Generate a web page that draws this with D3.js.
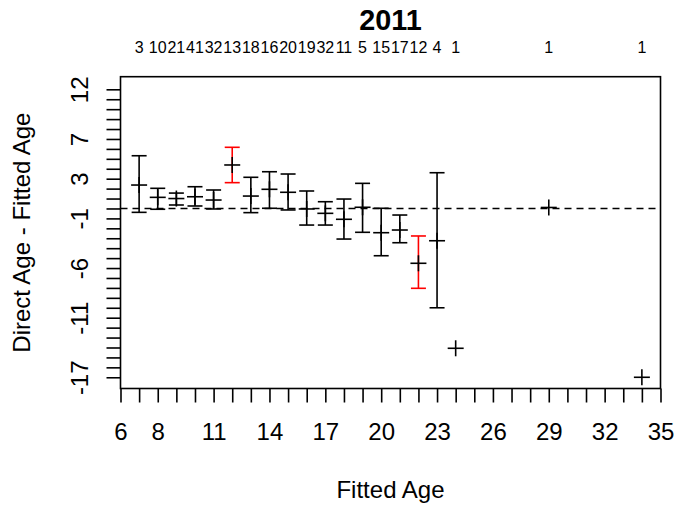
<!DOCTYPE html>
<html>
<head>
<meta charset="utf-8">
<script src="https://cdn.jsdelivr.net/npm/d3@7/dist/d3.min.js"></script>
<style>
  html, body { margin: 0; padding: 0; background: #fff; }
  svg text { font-family: "Liberation Sans", Arial, sans-serif; fill: #000; }
</style>
</head>
<body>
<svg id="chart" width="674" height="508"></svg>
<script>
// ---- data ----
const title = "2011";
const xLabel = "Fitted Age";
const yLabel = "Direct Age - Fitted Age";
const ages   = [7, 8, 9, 10, 11, 12, 13, 14, 15, 16, 17, 18, 19, 20, 21, 22, 23, 24, 29, 34];
const counts = [3, 10, 21, 41, 32, 13, 18, 16, 20, 19, 32, 11, 5, 15, 17, 12, 4, 1, 1, 1];
const means  = [2.36, 1.12, 1.0, 1.18, 0.85, 4.38, 1.25, 1.93, 1.63, -0.05, -0.49, -1.09, 0.12, -2.44, -2.17, -5.52, -3.25, -14.08, 0.1, -17.0];
const uppers = [5.31, 2.03, 1.55, 2.19, 1.86, 6.16, 3.14, 3.7, 3.47, 1.76, 0.68, 0.95, 2.53, 0.02, -0.66, -2.77, 3.6, null, null, null];
const lowers = [-0.39, -0.08, 0.35, 0.25, -0.05, 2.6, -0.42, 0.02, -0.15, -1.67, -1.67, -3.08, -2.4, -4.76, -3.45, -8.04, -10.0, null, null, null];
const flagged = [false, false, false, false, false, true, false, false, false, false, false, false, false, false, false, true, false, false, false, false];
const xTickLabels = [6, 8, 11, 14, 17, 20, 23, 26, 29, 32, 35];
const yTickLabels = [12, 7, 3, -1, -6, -11, -17];
const refLine = 0;

// ---- layout ----
const box = { left: 120.5, right: 660.5, top: 76.7, bottom: 388.5 };
const svg = d3.select("#chart");
const x = d3.scaleLinear().domain([6, 35]).range([box.left, box.right]);
const y = d3.scaleLinear().domain([-18.13, 13.27]).range([box.bottom, box.top]);
const lw = 1.6;

// reference dashed line
svg.append("line")
  .attr("x1", box.left).attr("x2", box.right)
  .attr("y1", y(refLine)).attr("y2", y(refLine))
  .attr("stroke", "#000").attr("stroke-width", lw)
  .attr("stroke-dasharray", "7,5");

// x axis
const xAxis = d3.axisBottom(x)
  .tickValues(d3.range(6, 36))
  .tickSize(14)
  .tickFormat(d => xTickLabels.includes(d) ? d : "");
const gx = svg.append("g").attr("transform", `translate(0,${box.bottom})`).call(xAxis);
gx.select(".domain").remove();
gx.selectAll(".tick line").attr("stroke", "#000").attr("stroke-width", lw);
gx.selectAll(".tick text").attr("y", 51.5).attr("dy", 0)
  .style("font-size", "24px").attr("fill", "#000");

// y axis
const yAxis = d3.axisLeft(y)
  .tickValues(d3.range(-17, 13))
  .tickSize(14)
  .tickFormat(d => yTickLabels.includes(d) ? d : "");
const gy = svg.append("g").attr("transform", `translate(${box.left},0)`).call(yAxis);
gy.select(".domain").remove();
gy.selectAll(".tick line").attr("stroke", "#000").attr("stroke-width", lw);
gy.selectAll(".tick text")
  .attr("x", 0).attr("dy", 0)
  .attr("text-anchor", "middle")
  .attr("transform", "translate(-33,0) rotate(-90)")
  .style("font-size", "24px").attr("fill", "#000");

// box
svg.append("rect")
  .attr("x", box.left).attr("y", box.top)
  .attr("width", box.right - box.left).attr("height", box.bottom - box.top)
  .attr("fill", "none").attr("stroke", "#000").attr("stroke-width", lw);

// top counts
svg.append("g").selectAll("text").data(ages).join("text")
  .attr("x", d => x(d)).attr("y", 53.3)
  .attr("text-anchor", "middle")
  .style("font-size", "16px")
  .text((d, i) => counts[i]);

// title and axis titles
svg.append("text").attr("x", (box.left + box.right) / 2).attr("y", 30)
  .attr("text-anchor", "middle").style("font-size", "28.8px").style("font-weight", "bold")
  .text(title);
svg.append("text").attr("x", (box.left + box.right) / 2).attr("y", 498)
  .attr("text-anchor", "middle").style("font-size", "24px").text(xLabel);
svg.append("text")
  .attr("transform", `translate(30,${(box.top + box.bottom) / 2}) rotate(-90)`)
  .attr("text-anchor", "middle").style("font-size", "24px").text(yLabel);

// error bars
const rows = ages.map((a, i) => ({ a, m: means[i], u: uppers[i], l: lowers[i], f: flagged[i] }));
const cap = 7.5, plus = 8;
const bars = svg.append("g").selectAll("g").data(rows.filter(r => r.u !== null)).join("g")
  .attr("stroke", r => r.f ? "#ff0000" : "#000").attr("stroke-width", lw);
bars.append("line").attr("x1", r => x(r.a)).attr("x2", r => x(r.a))
  .attr("y1", r => y(r.l)).attr("y2", r => y(r.u));
bars.append("line").attr("x1", r => x(r.a) - cap).attr("x2", r => x(r.a) + cap)
  .attr("y1", r => y(r.u)).attr("y2", r => y(r.u));
bars.append("line").attr("x1", r => x(r.a) - cap).attr("x2", r => x(r.a) + cap)
  .attr("y1", r => y(r.l)).attr("y2", r => y(r.l));

// plus markers
const pts = svg.append("g").selectAll("g").data(rows).join("g")
  .attr("stroke", "#000").attr("stroke-width", lw);
pts.append("line").attr("x1", r => x(r.a) - plus).attr("x2", r => x(r.a) + plus)
  .attr("y1", r => y(r.m)).attr("y2", r => y(r.m));
pts.append("line").attr("x1", r => x(r.a)).attr("x2", r => x(r.a))
  .attr("y1", r => y(r.m) - plus).attr("y2", r => y(r.m) + plus);
</script>
</body>
</html>
